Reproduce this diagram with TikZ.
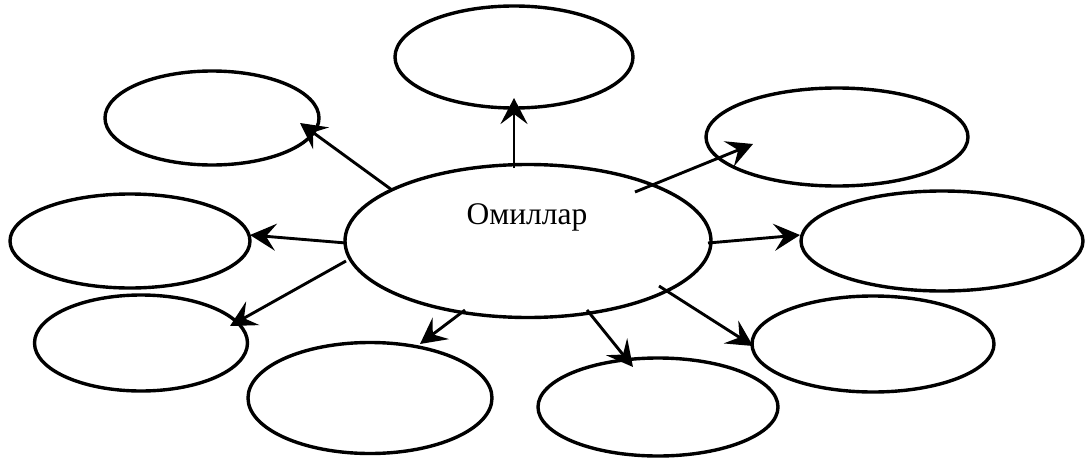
\documentclass[tikz,border=0pt]{standalone}
\usepackage{fontspec}
\setmainfont{Liberation Serif}
\usetikzlibrary{shapes.geometric,arrows.meta,calc}
\begin{document}
\begin{tikzpicture}[x=1pt,y=-1pt,
  oval/.style={draw=black,line width=3.4pt,ellipse,inner sep=0pt},
  arr/.style={line width=2.9pt,-{Stealth[length=26pt,width=27pt,inset=10pt]}}]
\useasboundingbox (0,0) rectangle (1085,458);
\node[oval,minimum width=366pt,minimum height=153pt] (c) at (528,241) {};
\node[font=\fontsize{31.5}{35}\selectfont] (lab) at (527,217) {Омиллар};
\node[oval,minimum width=238pt,minimum height=102pt] (t) at (514,57) {};
\node[oval,minimum width=214pt,minimum height=94pt] (tl) at (212,118) {};
\node[oval,minimum width=262pt,minimum height=98pt] (tr) at (837,137) {};
\node[oval,minimum width=240pt,minimum height=94pt] (l) at (130,241) {};
\node[oval,minimum width=282pt,minimum height=100pt] (r) at (942,241) {};
\node[oval,minimum width=213pt,minimum height=96pt] (bl) at (141,343) {};
\node[oval,minimum width=244pt,minimum height=111pt] (bcl) at (370,398) {};
\node[oval,minimum width=240pt,minimum height=98pt] (bcr) at (658,407) {};
\node[oval,minimum width=242pt,minimum height=96pt] (br) at (873,344) {};
\draw[arr] ($(c.center)+(-14,-73)$) -- ($(t.center)+(0,41)$);
\draw[arr] ($(c.center)+(-136,-51)$) -- ($(tl.center)+(88,5)$);
\draw[arr] ($(c.center)+(107,-49)$) -- ($(tr.center)+(-84,7)$);
\draw[arr] ($(c.center)+(-182,2)$) -- ($(l.center)+(120,-6)$);
\draw[arr] ($(c.center)+(180,2)$) -- ($(r.center)+(-142,-6)$);
\draw[arr] ($(c.center)+(-182,20)$) -- ($(bl.center)+(89,-17)$);
\draw[arr] ($(c.center)+(-63,69)$) -- ($(bcl.center)+(50,-54)$);
\draw[arr] ($(c.center)+(59,69)$) -- ($(bcr.center)+(-25,-40)$);
\draw[arr] ($(c.center)+(131,45)$) -- ($(br.center)+(-120,2)$);
\end{tikzpicture}
\end{document}
